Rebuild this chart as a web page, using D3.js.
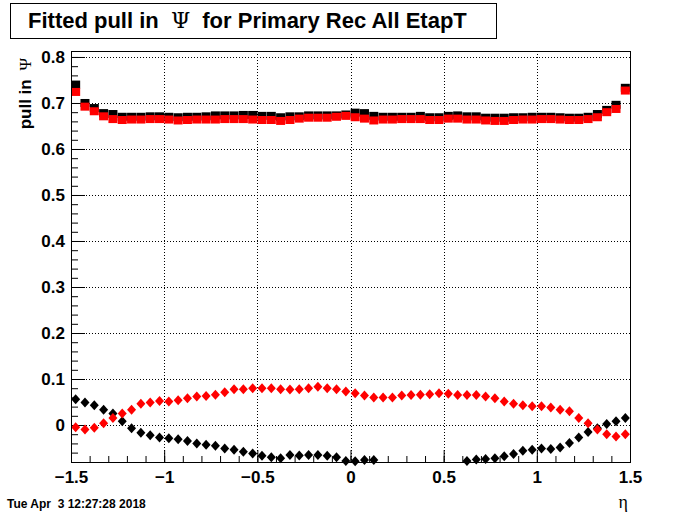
<!DOCTYPE html>
<html>
<head>
<meta charset="utf-8">
<script src="https://cdn.jsdelivr.net/npm/d3@7"></script>
<style>
body { margin: 0; background: #fff; }
svg { display: block; }
</style>
</head>
<body>
<script>
// bin centres in eta, 60 bins of 0.05 from -1.5 to 1.5
var etaBins = [-1.475, -1.425, -1.375, -1.325, -1.275, -1.225, -1.175, -1.125, -1.075, -1.025,
    -0.975, -0.925, -0.875, -0.825, -0.775, -0.725, -0.675, -0.625, -0.575, -0.525,
    -0.475, -0.425, -0.375, -0.325, -0.275, -0.225, -0.175, -0.125, -0.075, -0.025,
    0.025, 0.075, 0.125, 0.175, 0.225, 0.275, 0.325, 0.375, 0.425, 0.475,
    0.525, 0.575, 0.625, 0.675, 0.725, 0.775, 0.825, 0.875, 0.925, 0.975,
    1.025, 1.075, 1.125, 1.175, 1.225, 1.275, 1.325, 1.375, 1.425, 1.475];
// fitted sigma (squares)
var sigmaBlack = [0.740, 0.700, 0.689, 0.678, 0.676, 0.670, 0.670, 0.670, 0.671, 0.671,
    0.670, 0.669, 0.670, 0.670, 0.671, 0.673, 0.673, 0.673, 0.674, 0.674,
    0.672, 0.672, 0.669, 0.671, 0.671, 0.673, 0.673, 0.673, 0.673, 0.675,
    0.679, 0.678, 0.672, 0.670, 0.670, 0.670, 0.670, 0.672, 0.669, 0.669,
    0.672, 0.673, 0.671, 0.671, 0.668, 0.668, 0.668, 0.669, 0.669, 0.670,
    0.670, 0.670, 0.669, 0.668, 0.668, 0.670, 0.676, 0.685, 0.696, 0.733];
var sigmaRed = [0.724, 0.692, 0.682, 0.671, 0.665, 0.663, 0.664, 0.664, 0.665, 0.665,
    0.664, 0.662, 0.663, 0.664, 0.664, 0.664, 0.665, 0.665, 0.665, 0.664,
    0.663, 0.663, 0.661, 0.663, 0.666, 0.668, 0.668, 0.668, 0.670, 0.672,
    0.669, 0.666, 0.662, 0.664, 0.664, 0.665, 0.665, 0.665, 0.663, 0.663,
    0.666, 0.666, 0.664, 0.664, 0.662, 0.661, 0.661, 0.663, 0.664, 0.664,
    0.665, 0.665, 0.664, 0.663, 0.663, 0.665, 0.669, 0.680, 0.687, 0.727];
// fitted mean (diamonds), null = outside the plotted range
var meanBlack = [0.056, 0.049, 0.043, 0.033, 0.025, 0.008, -0.007, -0.017, -0.022, -0.027,
    -0.029, -0.031, -0.035, -0.040, -0.043, -0.045, -0.051, -0.054, -0.058, -0.062,
    -0.067, -0.070, -0.072, -0.065, -0.066, -0.065, -0.065, -0.067, -0.070, -0.078,
    -0.079, -0.076, -0.076, null, null, null, null, null, null, null,
    null, null, -0.078, -0.075, -0.074, -0.072, -0.068, -0.063, -0.056, -0.054,
    -0.051, -0.052, -0.049, -0.039, -0.027, -0.015, -0.007, 0.002, 0.008, 0.015];
var meanRed = [-0.005, -0.010, -0.006, 0.004, 0.015, 0.025, 0.033, 0.046, 0.049, 0.052,
    0.051, 0.054, 0.058, 0.062, 0.063, 0.066, 0.071, 0.078, 0.078, 0.080,
    0.080, 0.080, 0.078, 0.077, 0.078, 0.080, 0.083, 0.080, 0.078, 0.073,
    0.069, 0.064, 0.060, 0.060, 0.060, 0.064, 0.065, 0.066, 0.067, 0.069,
    0.068, 0.065, 0.065, 0.065, 0.062, 0.058, 0.051, 0.046, 0.043, 0.041,
    0.041, 0.038, 0.033, 0.030, 0.015, 0.004, -0.010, -0.020, -0.025, -0.020];
var xTicks = [-1.5, -1, -0.5, 0, 0.5, 1, 1.5];
var yTicks = [0, 0.1, 0.2, 0.3, 0.4, 0.5, 0.6, 0.7, 0.8];

var width = 700, height = 514;
var frame = { left: 71, right: 630, top: 51, bottom: 462 };
var yMin = -0.0804, yMax = 0.813;

var svg = d3.select("body").append("svg")
    .attr("width", width)
    .attr("height", height)
    .style("font-family", "'Liberation Sans', Arial, sans-serif");

var x = d3.scaleLinear().domain([-1.5, 1.5]).range([frame.left, frame.right]);
var y = d3.scaleLinear().domain([yMin, yMax]).range([frame.bottom, frame.top]);

drawGrid();
drawAxes();
drawSquares(sigmaBlack, "#000");
drawSquares(sigmaRed, "#ff0000");
drawDiamonds(meanBlack, "#000");
drawDiamonds(meanRed, "#ff0000");
drawFrame();
drawTexts();

function drawGrid() {
    var g = svg.append("g").attr("stroke", "#000").attr("stroke-width", 1).attr("stroke-dasharray", "1,2");
    g.selectAll(".vgrid").data(xTicks.slice(1, -1)).enter().append("line")
        .attr("x1", d => Math.round(x(d)) + 0.5).attr("x2", d => Math.round(x(d)) + 0.5)
        .attr("y1", frame.top).attr("y2", frame.bottom);
    g.selectAll(".hgrid").data(yTicks).enter().append("line")
        .attr("x1", frame.left).attr("x2", frame.right)
        .attr("y1", d => Math.round(y(d)) + 0.5).attr("y2", d => Math.round(y(d)) + 0.5);
}

function drawAxes() {
    var xAxis = d3.axisBottom(x)
        .tickValues(d3.range(-15, 16).map(i => i / 10))
        .tickSize(-6)
        .tickFormat("");
    svg.append("g").attr("transform", "translate(0," + frame.bottom + ")").call(xAxis)
        .call(g => g.select(".domain").remove());
    var xMajor = d3.axisBottom(x)
        .tickValues(xTicks)
        .tickSize(-12)
        .tickPadding(9)
        .tickFormat(d3.format("~g"));
    var gx = svg.append("g").attr("transform", "translate(0," + frame.bottom + ")").call(xMajor);
    gx.select(".domain").remove();
    gx.selectAll("text").attr("font-size", 17).attr("font-weight", "bold").attr("fill", "#000")
        .attr("font-family", "'Liberation Sans', Arial, sans-serif");

    var yMinor = d3.axisLeft(y)
        .tickValues(d3.range(-3, 41).map(i => i / 50))
        .tickSize(-7)
        .tickFormat("");
    svg.append("g").attr("transform", "translate(" + frame.left + ",0)").call(yMinor)
        .call(g => g.select(".domain").remove());
    var yMajor = d3.axisLeft(y)
        .tickValues(yTicks)
        .tickSize(-14)
        .tickPadding(6)
        .tickFormat(d3.format("~g"));
    var gy = svg.append("g").attr("transform", "translate(" + frame.left + ",0)").call(yMajor);
    gy.select(".domain").remove();
    gy.selectAll("text").attr("font-size", 17).attr("font-weight", "bold").attr("fill", "#000")
        .attr("font-family", "'Liberation Sans', Arial, sans-serif")
        .attr("x", -6);
    svg.selectAll(".tick line").attr("stroke", "#000");
}

function drawSquares(values, color) {
    var points = etaBins.map((eta, i) => ({ eta: eta, v: values[i] }))
        .filter(p => p.v !== null && p.v >= yMin && p.v <= yMax);
    svg.append("g").selectAll("rect").data(points).enter().append("rect")
        .attr("x", d => x(d.eta) - 4.5)
        .attr("y", d => y(d.v) - 4)
        .attr("width", 9)
        .attr("height", 8)
        .attr("fill", color);
}

function drawDiamonds(values, color) {
    var points = etaBins.map((eta, i) => ({ eta: eta, v: values[i] }))
        .filter(p => p.v !== null && p.v >= yMin && p.v <= yMax);
    svg.append("g").selectAll("path").data(points).enter().append("path")
        .attr("d", d => {
            var cx = x(d.eta), cy = y(d.v);
            return "M" + cx + "," + (cy - 5) + "L" + (cx + 4.5) + "," + cy +
                "L" + cx + "," + (cy + 5) + "L" + (cx - 4.5) + "," + cy + "Z";
        })
        .attr("fill", color);
}

function drawFrame() {
    svg.append("rect")
        .attr("x", frame.left + 0.5).attr("y", frame.top + 0.5)
        .attr("width", frame.right - frame.left).attr("height", frame.bottom - frame.top)
        .attr("fill", "none").attr("stroke", "#000").attr("stroke-width", 1);
}

function drawTexts() {
    svg.append("rect")
        .attr("x", 10.5).attr("y", 3.5).attr("width", 486).attr("height", 35)
        .attr("fill", "#fff").attr("stroke", "#000");
    var title = svg.append("text").attr("x", 28).attr("y", 28)
        .attr("font-size", 22).attr("font-weight", "bold").attr("fill", "#000");
    title.append("tspan").text("Fitted pull in ");
    title.append("tspan").attr("font-family", "'DejaVu Serif', 'Liberation Serif', serif")
        .attr("font-weight", "normal").attr("dx", 6).text("Ψ");
    title.append("tspan").attr("dx", 6).text(" for Primary Rec All EtapT");

    var ylab = svg.append("text")
        .attr("transform", "translate(31,58) rotate(-90)")
        .attr("text-anchor", "end")
        .attr("font-size", 17).attr("font-weight", "bold").attr("fill", "#000");
    ylab.append("tspan").text("pull in ");
    ylab.append("tspan").attr("font-family", "'Liberation Serif', serif")
        .attr("font-weight", "normal").attr("dx", 4).text("Ψ");

    svg.append("text").attr("x", 628).attr("y", 508).attr("text-anchor", "end")
        .attr("font-family", "'Liberation Serif', serif")
        .attr("font-size", 18).attr("fill", "#000").text("η");

    svg.append("text").attr("x", 7).attr("y", 508)
        .attr("font-size", 12).attr("font-weight", "bold").attr("fill", "#000")
        .attr("xml:space", "preserve").style("white-space", "pre")
        .text("Tue Apr  3 12:27:28 2018");
}
</script>
</body>
</html>
